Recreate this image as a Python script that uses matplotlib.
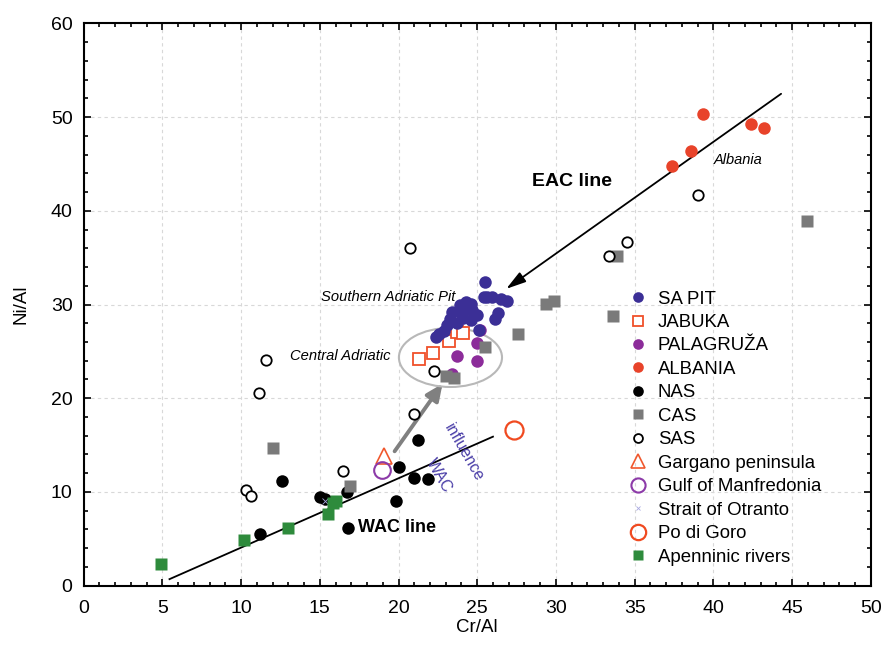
import matplotlib
matplotlib.use("Agg")
import matplotlib.pyplot as plt
from matplotlib.patches import Ellipse
from matplotlib.ticker import MultipleLocator

plt.rcParams["font.family"] = ["Liberation Sans", "DejaVu Sans"]

# Cr/Al and Ni/Al ratios per group
sapit_x = [25.5, 25.4, 25.95, 26.5, 26.9, 25.6, 24.6, 23.4, 24.0, 24.7, 25.0, 26.3, 26.15,
           24.6, 23.7, 23.1, 22.55, 22.35, 25.1, 23.3, 24.25, 24.3, 23.9, 24.1, 22.9]
sapit_y = [32.4, 30.8, 30.8, 30.55, 30.4, 30.8, 30.1, 29.2, 29.1, 29.4, 28.9, 29.05, 28.5,
           28.35, 28.0, 27.8, 26.9, 26.5, 27.3, 28.5, 29.6, 30.3, 29.9, 28.6, 27.2]
jabuka_x = [21.3, 22.2, 23.2, 23.7, 24.1]
jabuka_y = [24.2, 24.8, 26.1, 27.1, 27.0]
palag_x = [25.2, 25.0, 23.7, 25.0, 23.4]
palag_y = [27.3, 25.9, 24.5, 24.0, 22.6]
albania_x = [39.35, 38.6, 37.35, 42.4, 43.2]
albania_y = [50.3, 46.4, 44.8, 49.3, 48.8]
nas_x = [11.2, 12.6, 15.0, 15.3, 16.7, 16.8, 19.85, 20.0, 21.0, 21.9, 21.25]
nas_y = [5.5, 11.2, 9.5, 9.3, 10.0, 6.2, 9.0, 12.7, 11.5, 11.4, 15.5]
cas_x = [12.0, 16.9, 23.0, 23.5, 25.5, 27.6, 29.35, 29.9, 33.6, 33.85, 45.95]
cas_y = [14.7, 10.6, 22.4, 22.2, 25.5, 26.9, 30.1, 30.4, 28.8, 35.2, 38.9]
sas_x = [10.3, 10.65, 11.15, 11.6, 16.5, 20.7, 21.0, 22.25, 33.4, 34.5, 39.0]
sas_y = [10.2, 9.6, 20.6, 24.1, 12.2, 36.0, 18.3, 22.9, 35.2, 36.7, 41.7]
gargano_x, gargano_y = [19.05], [13.8]
manfred_x, manfred_y = [18.95], [12.35]
otranto_x, otranto_y = [15.35], [9.0]
pogoro_x, pogoro_y = [27.35], [16.6]
apenn_x = [4.9, 10.2, 13.0, 15.55, 15.85, 16.0]
apenn_y = [2.3, 4.9, 6.2, 7.6, 8.8, 9.0]

# mixing lines and arrows
wac_line = ([5.45, 26.0], [0.7, 15.9])
eac_start, eac_tip = (44.45, 52.65), (26.7, 31.5)
wac_start, wac_tip = (19.65, 14.1), (22.9, 21.8)

fig = plt.figure(figsize=(8.83, 6.51), dpi=100)
ax = fig.add_axes([0.0948, 0.1003, 0.8913, 0.8639])

ax.plot(wac_line[0], wac_line[1], color="black", lw=1.3, zorder=2)
ax.annotate("", xy=eac_tip, xytext=eac_start,
            arrowprops=dict(arrowstyle="-|>,head_length=1.2,head_width=0.35",
                            color="black", lw=1.3), zorder=2)
ax.annotate("", xy=wac_tip, xytext=wac_start,
            arrowprops=dict(arrowstyle="-|>,head_length=1.0,head_width=0.45",
                            color="#808080", lw=2.8), zorder=2)
ax.add_patch(Ellipse((23.3, 24.35), 6.55, 6.3, fill=False, ec="#b8b8b8", lw=1.5, zorder=2))

ms = 9
ax.plot(sapit_x, sapit_y, "o", ms=ms, color="#3b2f96", mec="none", label="SA PIT", zorder=4)
ax.plot(jabuka_x, jabuka_y, "s", ms=ms, mfc="white", mec="#f0502a", mew=1.3, label="JABUKA", zorder=3)
ax.plot(palag_x, palag_y, "o", ms=ms, color="#8c2c9a", mec="none", label="PALAGRUŽA", zorder=3)
ax.plot(albania_x, albania_y, "o", ms=ms, color="#e8432a", mec="none", label="ALBANIA", zorder=3)
ax.plot(nas_x, nas_y, "o", ms=ms, color="black", mec="none", label="NAS", zorder=3)
ax.plot(cas_x, cas_y, "s", ms=ms, color="#7a7a7a", mec="none", label="CAS", zorder=3)
ax.plot(sas_x, sas_y, "o", ms=7.5, mfc="white", mec="black", mew=1.3, label="SAS", zorder=3)
ax.plot(gargano_x, gargano_y, "^", ms=12, mfc="none", mec="#f0582e", mew=1.2,
        label="Gargano peninsula", zorder=3)
ax.plot(manfred_x, manfred_y, "o", ms=12, mfc="none", mec="#8c3aa8", mew=1.5,
        label="Gulf of Manfredonia", zorder=3)
ax.plot(otranto_x, otranto_y, marker="x", ms=4, color="#a8a8e0", mew=0.6, ls="none",
        label="Strait of Otranto", zorder=3)
ax.plot(pogoro_x, pogoro_y, "o", ms=13, mfc="none", mec="#f04a20", mew=1.6,
        label="Po di Goro", zorder=3)
ax.plot(apenn_x, apenn_y, "s", ms=ms, color="#2e8b3c", mec="none", label="Apenninic rivers", zorder=3)

ax.legend(loc="upper left", bbox_to_anchor=(0.676, 0.548), frameon=False, fontsize=13.4,
          handlelength=1.0, handletextpad=0.55, labelspacing=0.345, borderpad=0.2,
          markerscale=0.85)

ax.text(31.0, 43.1, "EAC line", fontsize=14, fontweight="bold", ha="center", va="center")
ax.text(41.6, 45.4, "Albania", fontsize=10.5, style="italic", ha="center", va="center")
ax.text(23.6, 30.8, "Southern Adriatic Pit", fontsize=10.6, style="italic", ha="right", va="center")
ax.text(19.5, 24.5, "Central Adriatic", fontsize=10.6, style="italic", ha="right", va="center")
ax.text(17.4, 6.2, "WAC line", fontsize=13, fontweight="bold", ha="left", va="center")
ax.text(24.15, 14.2, "influence", fontsize=11.5, color="#4b3fa8", rotation=-60,
        ha="center", va="center")
ax.text(22.55, 11.7, "WAC", fontsize=11.5, color="#4b3fa8", rotation=-60,
        ha="center", va="center")

ax.set_xlim(0, 50)
ax.set_ylim(0, 60)
ax.xaxis.set_major_locator(MultipleLocator(5))
ax.xaxis.set_minor_locator(MultipleLocator(1))
ax.yaxis.set_major_locator(MultipleLocator(10))
ax.yaxis.set_minor_locator(MultipleLocator(2))
ax.tick_params(which="both", direction="in", top=True, right=True, labelsize=14, width=1.2)
ax.tick_params(which="major", length=5)
ax.tick_params(which="minor", length=3)
ax.tick_params(axis="x", pad=10)
ax.tick_params(axis="y", pad=8)
ax.grid(True, which="major", ls=(0, (3, 3)), color="#d8d8d8", lw=0.8)
ax.set_axisbelow(True)
for s in ax.spines.values():
    s.set_linewidth(1.5)

ax.set_xlabel("Cr/Al", fontsize=13.5, labelpad=2)
ax.set_ylabel("Ni/Al", fontsize=13.5, labelpad=15)

fig.savefig("out.png", dpi=100)
